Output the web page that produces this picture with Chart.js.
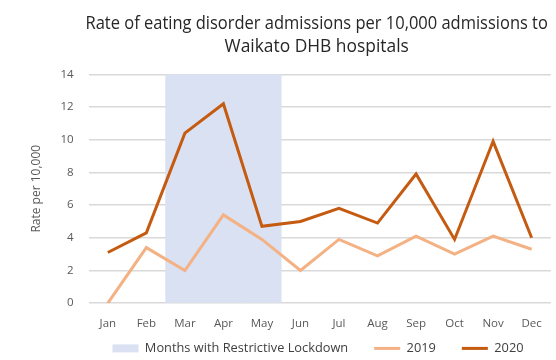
<!DOCTYPE html>
<html>
<head>
<meta charset="utf-8">
<script src="https://cdn.jsdelivr.net/npm/chart.js@4/dist/chart.umd.min.js"></script>
<style>
  html, body { margin: 0; padding: 0; background: #ffffff; }
  #wrap { width: 556px; height: 360px; }
</style>
</head>
<body>
<div id="wrap"><canvas id="c"></canvas></div>
<script>
// Months on the x axis
const months = ['Jan', 'Feb', 'Mar', 'Apr', 'May', 'Jun', 'Jul', 'Aug', 'Sep', 'Oct', 'Nov', 'Dec'];
// Eating disorder admissions per 10,000 admissions
const rate2019 = [0, 3.4, 2.0, 5.4, 3.9, 2.0, 3.9, 2.9, 4.1, 3.0, 4.1, 3.3];
const rate2020 = [3.1, 4.3, 10.4, 12.2, 4.7, 5.0, 5.8, 4.9, 7.9, 3.9, 9.9, 4.0];
// Months under restrictive lockdown (shaded full height of the axis)
const lockdown = [null, null, 14, 14, 14, null, null, null, null, null, null, null];
const yTicks = [0, 2, 4, 6, 8, 10, 12, 14];

const FONT = "'Open Sans', sans-serif";
const TEXT = '#595959';

// Legend: wide spacing between entries but a compact band under the axis.
const LEGEND_PAD = 26;      // horizontal gap between entries
const LEGEND_BAND = 13;     // vertical space reserved for the legend
const LEGEND_TOP = 316;     // top of the legend box (entries sit LEGEND_PAD below it)
const LEGEND_CENTER = 318;  // horizontal centre of the legend row
const TITLE_SHIFT = -3;     // nudge the title slightly off the plot centre
const legendLayout = {
  id: 'legendLayout',
  beforeLayout(chart) {
    const lg = chart.legend;
    if (lg && !lg._compactFit) {
      const fit = lg.fit.bind(lg);
      lg.fit = function () { fit(); this.height = LEGEND_BAND; };
      lg._compactFit = true;
    }
  },
  afterLayout(chart) {
    const lg = chart.legend;
    if (lg) {
      lg.top = LEGEND_TOP; lg.bottom = chart.height;
      lg.left = LEGEND_CENTER - 300; lg.right = LEGEND_CENTER + 300;
    }
    const t = chart.titleBlock;
    if (t) { t.left += TITLE_SHIFT; t.right += TITLE_SHIFT; }
  }
};

new Chart(document.getElementById('c'), {
  data: {
    labels: months,
    datasets: [
      {
        type: 'bar',
        label: 'Months with Restrictive Lockdown',
        data: lockdown,
        backgroundColor: '#D9E1F2',
        borderWidth: 0,
        barPercentage: 1,
        categoryPercentage: 1,
        pointStyle: 'rect',
        order: 3
      },
      {
        type: 'line',
        label: '2019',
        data: rate2019,
        borderColor: '#F4B183',
        backgroundColor: '#F4B183',
        borderWidth: 3,
        pointRadius: 0,
        tension: 0,
        pointStyle: 'line',
        order: 2
      },
      {
        type: 'line',
        label: '2020',
        data: rate2020,
        borderColor: '#C55A11',
        backgroundColor: '#C55A11',
        borderWidth: 3,
        pointRadius: 0,
        tension: 0,
        pointStyle: 'line',
        order: 1
      }
    ]
  },
  plugins: [legendLayout],
  options: {
    responsive: true,
    maintainAspectRatio: false,
    animation: false,
    layout: { padding: { left: 29, right: 0, top: 12, bottom: 2 } },
    plugins: {
      tooltip: { enabled: false },
      title: {
        display: true,
        fullSize: false,
        text: ['Rate of eating disorder admissions per 10,000 admissions to', 'Waikato DHB hospitals'],
        color: '#262626',
        font: { family: FONT, size: 17.4, weight: 'normal', lineHeight: 1.33 },
        padding: { top: 0, bottom: 16 }
      },
      legend: {
        display: true,
        position: 'bottom',
        fullSize: true,
        labels: {
          usePointStyle: true,
          pointStyleWidth: 26,
          boxHeight: 8,
          color: '#404040',
          padding: LEGEND_PAD,
          font: { family: FONT, size: 12.8 },
          sort: (a, b) => a.datasetIndex - b.datasetIndex
        }
      }
    },
    scales: {
      x: {
        offset: true,
        grid: { display: false, drawTicks: false },
        border: { display: false },
        ticks: { color: TEXT, font: { family: FONT, size: 11.5 }, padding: 14, maxRotation: 0 }
      },
      y: {
        min: 0,
        max: 14,
        afterBuildTicks: (axis) => { axis.ticks = yTicks.map(v => ({ value: v })); },
        grid: { color: '#D9D9D9', lineWidth: 1.5, drawTicks: false },
        border: { display: false },
        ticks: { color: TEXT, font: { family: FONT, size: 11.5 }, padding: 15 },
        title: {
          display: true,
          text: 'Rate per 10,000',
          color: TEXT,
          font: { family: FONT, size: 12 },
          padding: { top: 0, bottom: 2 }
        }
      }
    }
  }
});
</script>
</body>
</html>
